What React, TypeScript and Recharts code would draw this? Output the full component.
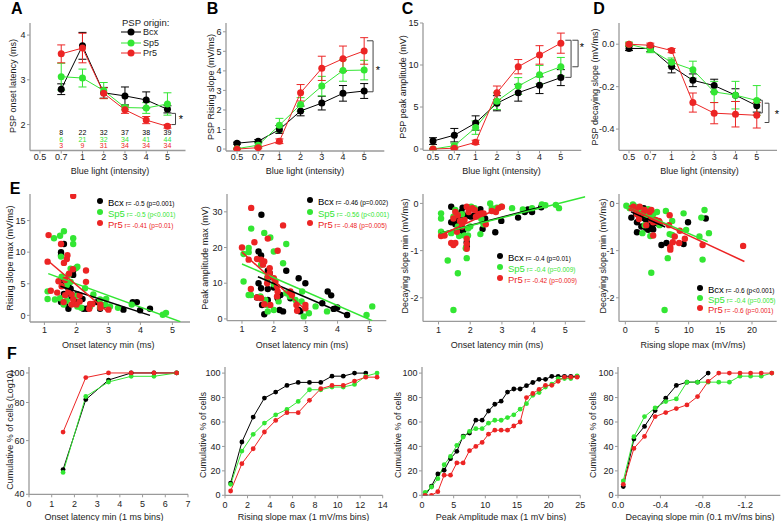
import React from 'react';
import { ComposedChart, Line, Scatter, XAxis, YAxis, ErrorBar, ReferenceLine } from 'recharts';

const BLACK = '#000000';
const GREEN = '#33e633';
const RED = '#ec2424';
const AXIS = '#9a9a9a';
const INK = '#222222';
const FONT = '"Liberation Sans", Arial, Helvetica, sans-serif';

// ---------- row 1: responses vs blue light intensity ----------
const intensities = ['0.5', '0.7', '1', '2', '3', '4', '5'];
const cellsBcx = [null, 8, 22, 32, 37, 38, 39];
const cellsSp5 = [null, 6, 21, 32, 34, 41, 44];
const cellsPr5 = [null, 3, 9, 31, 34, 34, 34];

const latencyBcx = [null, 2.79, 3.76, 2.71, 2.64, 2.55, 2.34];
const latencyBcxErr = [null, 0.12, 0.3, 0.12, 0.2, 0.18, 0.08];
const latencySp5 = [null, 3.07, 3.04, 2.76, 2.38, 2.37, 2.46];
const latencySp5Err = [null, 0.3, 0.2, 0.18, 0.05, 0.12, 0.25];
const latencyPr5 = [null, 3.58, 3.71, 2.7, 2.33, 2.1, 1.96];
const latencyPr5Err = [null, 0.2, 0.33, 0.12, 0.08, 0.08, 0.04];

const riseBcx = [0.3, 0.4, 1.0, 1.95, 2.35, 2.85, 2.97];
const riseBcxErr = [0.05, 0.08, 0.2, 0.25, 0.35, 0.4, 0.38];
const riseSp5 = [0.02, 0.2, 1.22, 2.28, 3.22, 4.02, 4.04];
const riseSp5Err = [0.03, 0.12, 0.35, 0.35, 0.5, 0.55, 0.5];
const risePr5 = [0.0, 0.07, 0.4, 2.88, 4.13, 4.62, 5.02];
const risePr5Err = [0.02, 0.05, 0.12, 0.42, 0.62, 0.65, 0.68];

const ampBcx = [0.95, 1.65, 3.1, 5.45, 6.7, 7.6, 8.5];
const ampBcxErr = [0.4, 0.8, 0.85, 0.9, 1.0, 1.0, 0.95];
const ampSp5 = [0.0, 0.4, 2.55, 5.7, 7.5, 8.85, 9.8];
const ampSp5Err = [0.05, 0.3, 0.8, 1.0, 1.0, 1.1, 1.1];
const ampPr5 = [0.0, 0.1, 0.8, 6.7, 9.8, 11.2, 12.6];
const ampPr5Err = [0.05, 0.1, 0.25, 0.8, 0.85, 1.1, 1.2];

const decayBcx = [-0.02, -0.02, -0.105, -0.17, -0.195, -0.24, -0.29];
const decayBcxErr = [0.01, 0.015, 0.03, 0.03, 0.03, 0.03, 0.03];
const decaySp5 = [0.0, -0.025, -0.085, -0.12, -0.225, -0.24, -0.265];
const decaySp5Err = [0.01, 0.015, 0.02, 0.04, 0.05, 0.065, 0.07];
const decayPr5 = [0.0, -0.005, -0.03, -0.275, -0.325, -0.33, -0.335];
const decayPr5Err = [0.005, 0.01, 0.01, 0.045, 0.05, 0.06, 0.06];

// significance brackets: x (intensity index units), tick end, top and bottom value
const latencyBrackets = [{ x: 6.38, tick: 6.19, top: 2.25, bottom: 2.0 }];
const riseBrackets = [{ x: 6.42, tick: 6.13, top: 5.54, bottom: 2.93 }];
const ampBrackets = [
  { x: 6.48, tick: 6.21, top: 12.95, bottom: 8.53 },
  { x: 6.81, tick: 6.54, top: 12.95, bottom: 9.79 },
];
const decayBrackets = [
  { x: 6.26, tick: 6.04, top: -0.264, bottom: -0.324 },
  { x: 6.57, tick: 6.37, top: -0.278, bottom: -0.369 },
];

// ---------- row 2: correlations (x, y per cell) ----------
const latRiseBcx = [[1.52,10.0],[1.61,11.3],[1.52,9.5],[1.9,6.4],[1.9,7.1],[1.52,5.6],[1.65,4.7],[1.75,4.3],[1.82,4.2],[1.61,3.4],[1.8,3.5],[1.85,3.0],[2.03,3.3],[1.52,2.1],[1.65,1.8],[1.75,1.05],[2.03,2.1],[2.19,2.6],[2.22,1.05],[2.32,1.05],[2.64,2.1],[2.74,1.05],[2.86,1.6],[3.47,0.9],[3.76,2.1],[3.89,2.1],[3.99,0.8],[4.3,1.05],[2.43,1.6],[1.75,4.8]];
const latRiseSp5 = [[1.61,13.3],[1.49,12.6],[1.3,12.2],[1.9,12.2],[1.9,11.3],[1.52,9.3],[2.03,7.7],[1.99,7.5],[1.82,7.4],[1.75,6.4],[1.54,6.1],[1.82,5.3],[1.7,4.8],[1.1,3.8],[1.1,2.6],[1.49,2.7],[1.7,2.3],[2.03,1.4],[2.15,1.2],[2.43,1.4],[2.74,1.3],[2.9,1.7],[2.93,2.6],[2.74,2.5],[3.05,1.4],[3.3,1.2],[3.73,1.7],[4.7,0.1],[4.8,0.4],[2.53,3.3],[2.27,4.3],[2.0,3.1],[1.6,1.7],[1.33,2.5]];
const latRisePr5 = [[1.9,18.9],[1.13,12.7],[1.52,11.3],[1.72,9.5],[1.7,8.9],[1.61,8.3],[1.1,8.5],[1.89,7.3],[2.3,7.1],[2.3,5.3],[1.2,3.9],[1.4,3.6],[1.65,3.2],[1.75,3.7],[1.85,3.3],[2.1,3.2],[1.9,2.5],[1.6,2.1],[2.0,1.7],[2.43,1.8],[2.5,1.8],[2.75,1.7],[2.4,1.05],[3.0,0.9],[2.75,1.2],[1.85,1.7],[2.1,2.2],[1.44,5.4],[1.65,5.6],[1.77,6.6],[1.54,4.6]];
const latRiseFitBcx = [[1.5, 4.6], [4.3, 0.0]];
const latRiseFitSp5 = [[1.12, 6.6], [5.25, -1.0]];
const latRiseFitPr5 = [[1.12, 8.6], [2.95, 0.7]];

const latAmpBcx = [[1.61,29.2],[1.52,18.9],[1.6,17.8],[1.81,13.5],[1.87,12.8],[2.39,13.5],[1.81,11.4],[1.52,10.0],[2.99,10.0],[2.78,11.4],[2.0,8.8],[1.6,8.6],[1.81,8.4],[2.21,6.7],[1.47,6.0],[1.63,3.9],[1.7,1.3],[1.81,5.3],[2.12,5.8],[2.18,2.5],[2.29,2.1],[2.52,5.8],[2.78,2.5],[2.83,2.1],[3.52,4.4],[3.69,7.7],[3.8,6.6],[3.88,2.8],[3.99,3.2],[4.3,1.1]];
const latAmpSp5 = [[1.29,25.3],[1.7,24.1],[1.89,22.8],[2.39,21.0],[1.21,19.9],[2.0,18.9],[1.21,18.7],[1.05,18.2],[1.6,15.2],[2.29,15.6],[1.79,11.4],[2.0,9.7],[1.05,10.5],[1.28,6.7],[1.73,5.3],[1.79,3.9],[2.0,2.5],[2.15,4.9],[2.39,7.2],[2.5,6.3],[2.68,5.3],[2.87,4.9],[2.89,7.7],[2.94,0.7],[3.1,1.6],[3.31,3.5],[3.67,2.1],[5.09,3.5],[4.91,1.1],[1.58,6.3],[1.81,2.1],[1.21,6.7]];
const latAmpPr5 = [[1.29,31.1],[2.29,26.2],[1.0,20.0],[1.39,21.5],[1.21,16.6],[1.47,16.8],[1.6,16.6],[1.81,22.5],[1.7,16.1],[1.66,15.2],[2.12,19.1],[1.87,14.2],[1.81,11.9],[2.05,10.5],[2.1,9.1],[2.12,7.7],[1.28,8.4],[1.6,5.8],[1.7,4.1],[1.89,3.9],[2.52,7.7],[2.57,6.7],[2.71,3.9],[2.73,2.3],[2.99,3.0],[2.99,3.9],[2.1,6.3],[1.47,6.0],[1.79,10.0],[1.87,12.8],[2.0,11.4]];
const latAmpFitBcx = [[1.5, 11.8], [4.3, 1.1]];
const latAmpFitSp5 = [[1.0, 15.4], [5.09, -0.5]];
const latAmpFitPr5 = [[1.0, 18.7], [3.0, 2.5]];

const latDecBcx = [[1.4,-0.07],[1.76,-0.09],[2.0,-0.1],[2.32,-0.12],[1.72,-0.18],[1.53,-0.32],[1.61,-0.32],[1.79,-0.25],[1.95,-0.26],[2.03,-0.28],[1.72,-0.54],[1.79,-0.56],[1.76,-0.6],[1.53,-0.44],[1.4,-0.4],[1.89,-0.82],[1.89,-0.91],[2.39,-0.54],[2.79,-0.61],[2.98,-0.37],[3.51,-0.3],[3.72,-0.18],[3.82,-0.13],[3.95,-0.18],[4.24,-0.08],[2.47,-0.32],[2.14,-0.25],[2.24,-0.18]];
const latDecSp5 = [[1.08,-0.21],[1.08,-0.32],[1.08,-0.6],[1.4,-0.63],[1.29,-1.21],[1.61,-1.48],[1.47,-2.26],[1.61,-0.49],[1.65,-0.69],[1.82,-0.68],[1.93,-0.68],[1.89,-1.16],[1.86,-0.95],[2.0,-0.49],[1.53,-0.14],[2.03,-0.07],[2.14,-0.1],[2.35,-0.33],[2.32,-0.65],[2.42,-0.44],[2.63,0.0],[2.68,-0.1],[2.84,-0.09],[2.98,-0.07],[3.32,-0.1],[3.66,-0.13],[3.95,-0.1],[4.26,-0.02],[4.37,-0.04],[4.7,-0.03],[4.8,-0.1],[1.74,-0.23],[1.47,-0.28],[1.93,-0.53]];
const latDecPr5 = [[1.08,-0.69],[1.19,-0.68],[1.4,-0.84],[1.47,-0.88],[1.53,-0.84],[1.89,-0.86],[1.89,-0.96],[1.89,-0.75],[1.47,-0.32],[1.53,-0.18],[1.61,-0.25],[1.68,-0.37],[1.74,-0.42],[1.82,-0.35],[1.89,-0.07],[1.95,-0.18],[2.07,-0.1],[2.14,-0.14],[2.18,-0.28],[2.26,-0.23],[2.35,-0.21],[2.42,-0.21],[2.49,-0.44],[2.68,-0.16],[2.81,-0.18],[2.89,-0.1],[3.0,-0.07],[1.74,-0.49],[1.58,-0.6]];
const latDecFitBcx = [[1.05, -0.63], [4.26, -0.07]];
const latDecFitSp5 = [[1.05, -0.63], [5.63, 0.14]];
const latDecFitPr5 = [[1.05, -0.68], [3.0, -0.07]];

const riseDecBcx = [[0.95,-0.3],[1.84,-0.4],[1.84,-0.61],[2.53,-0.49],[2.53,-0.25],[3.05,-0.32],[3.3,-0.53],[3.6,-0.56],[3.84,-0.47],[4.2,-0.47],[4.4,-0.55],[3.6,-0.25],[2.7,-0.2],[2.16,-0.14],[5.4,-0.44],[5.7,-0.88],[6.5,-0.84],[9.2,-0.86],[9.9,-0.4],[12.7,-0.32],[1.2,-0.1],[2.9,-0.1],[1.7,-0.21],[3.3,-0.35],[4.9,-0.42]];
const riseDecSp5 = [[0.16,-0.05],[0.68,-0.1],[1.2,-0.02],[1.63,-0.07],[2.16,-0.1],[2.53,-0.12],[3.6,-0.12],[3.84,-0.14],[4.4,-0.23],[5.0,-0.18],[6.4,-0.16],[7.4,-0.37],[7.0,-0.65],[7.4,-0.67],[6.7,-1.16],[4.1,-1.47],[6.2,-2.26],[9.2,-0.21],[12.0,-0.3],[12.5,-0.14],[13.2,-0.63],[11.7,-0.7],[12.2,-1.19],[3.2,-0.25],[4.1,-0.25],[3.95,-0.69],[2.7,-0.63],[5.4,-0.46],[9.6,-0.56],[3.05,-0.46]];
const riseDecPr5 = [[0.95,-0.1],[1.3,-0.07],[1.63,-0.14],[1.84,-0.23],[2.26,-0.07],[2.8,-0.21],[3.05,-0.14],[3.84,-0.18],[4.1,-0.14],[4.8,-0.35],[5.0,-0.39],[5.3,-0.37],[4.4,-0.4],[4.1,-0.35],[4.4,-0.68],[5.4,-0.39],[7.1,-0.93],[7.1,-0.98],[7.5,-0.82],[7.8,-0.7],[8.5,-0.84],[8.6,-0.58],[6.9,-0.46],[9.4,-0.75],[12.2,-0.88],[18.6,-0.9],[7.0,-0.25],[3.3,-0.46],[2.16,-0.33]];
const riseDecFitBcx = [[0.9, -0.18], [6.3, -0.5]];
const riseDecFitSp5 = [[0.16, -0.07], [13.0, -0.81]];
const riseDecFitPr5 = [[0.68, -0.1], [18.8, -1.23]];

// ---------- row 3: cumulative distributions ----------
const latencyBins = [1.5, 2.5, 3.5, 4.5, 5.5, 6.5];
const cumLatBcx = [48.2, 81.8, 94.8, 100, 100, 100];
const cumLatSp5 = [47.2, 83.7, 93.4, 97.5, 97.5, 100];
const cumLatPr5 = [64, 96.6, 100, 100, 100, 100];

const riseBins = [0.5, 1.5, 2.5, 3.5, 4.5, 5.5, 6.5, 7.5, 8.5, 9.5, 10.5, 11.5, 12.5, 13.5];
const cumRiseBcx = [10, 43.6, 64, 79.6, 84.5, 89.9, 92.4, 92.4, 92.4, 97.5, 97.5, 100, 100, null];
const cumRiseSp5 = [9, 36.2, 49.9, 59.1, 65.9, 70.3, 76.8, 86.4, 86.4, 88.6, 88.6, 90.7, 97.5, 100];
const cumRisePr5 = [3.5, 25.9, 38.1, 51.8, 61.3, 67.6, 67.6, 77.7, 87.2, 89.9, 89.9, 93.5, 96.7, 96.7];

const ampBins = [0.5, 1.5, 2.5, 3.5, 4.5, 5.5, 6.5, 7.5, 8.5, 9.5, 10.5, 11.5, 12.5, 13.5, 14.5, 15.5, 16.5, 17.5, 18.5, 19.5, 20.5, 21.5, 22.5, 23.5, 24.5];
const cumAmpBcx = [0, 7.5, 17.5, 20.5, 30, 36, 48.5, 51, 61.5, 61.5, 69, 74.5, 77, 84.5, 87, 87, 89.7, 92.3, 94.9, 94.9, 97.4, 97.4, 97.4, 97.4, 97.4];
const cumAmpSp5 = [2.3, 6.8, 13.6, 25, 31.8, 40.9, 47.7, 52.3, 54.5, 54.5, 59, 61.4, 61.4, 63.6, 65.9, 70.5, 75, 81.8, 84.1, 88.6, 90.9, 95.5, 95.5, 95.5, 97.7];
const cumAmpPr5 = [0, 0, 3, 16.5, 16.5, 26.5, 26.5, 36.5, 40, 43.3, 50, 53.3, 53.3, 53.3, 56.7, 60, 80, 83.3, 86.7, 90, 90, 93.3, 96.7, 96.7, 96.7];

const decayBins = [0.05, 0.15, 0.25, 0.35, 0.45, 0.55, 0.65, 0.75, 0.85, 0.95, 1.05, 1.15, 1.25, 1.35, 1.45];
const cumDecBcx = [7.1, 46, 56.4, 69.3, 79.5, 89.9, 92.6, 92.6, 100, null, null, null, null, null, null];
const cumDecSp5 = [11.8, 47.9, 64.4, 71.5, 76.7, 78.9, 92.6, 92.6, 92.6, 92.6, 92.6, 97.5, 97.5, 97.5, 100];
const cumDecPr5 = [9, 38.4, 48.2, 64.4, 67.7, 71, 74, 80.8, 93.2, 100, 100, 100, 100, 100, 100];

// ---------- layout helpers ----------
const P = { l: 44, t: 8, r: 8, b: 26 };
type Rect = [number, number, number, number];

function frame(rect: Rect) {
  return {
    style: { position: 'absolute' as const, left: rect[0] - P.l, top: rect[1] - P.t },
    width: rect[2] - rect[0] + P.l + P.r,
    height: rect[3] - rect[1] + P.t + P.b,
  };
}

const TICK = { fontSize: 9, fill: INK, fontFamily: FONT };
const axisLine = { stroke: AXIS, strokeWidth: 1.3 };
const tickLine = { stroke: AXIS };

function T({ x, y, children, size = 9, rotate = false, color = INK, bold = false, anchor = 'middle' }: any) {
  const tx = anchor === 'middle' ? '-50%' : '0';
  return (
    <div
      style={{
        position: 'absolute',
        left: x,
        top: y,
        transform: `translate(${tx}, -50%)${rotate ? ' rotate(-90deg)' : ''}`,
        whiteSpace: 'nowrap',
        fontSize: size,
        color,
        fontWeight: bold ? 700 : 400,
        lineHeight: 1,
      }}
    >
      {children}
    </div>
  );
}

type Series = { name: string; values: (number | null)[]; errors: (number | null)[]; color: string };

function countTick(props: any) {
  const { x, y, payload } = props;
  const i = payload.value as number;
  const rows = [cellsBcx, cellsSp5, cellsPr5];
  const colors = [BLACK, GREEN, RED];
  return (
    <g>
      <text x={x} y={y} dy="0.71em" textAnchor="middle" fontSize={9} fill={INK} fontFamily={FONT}>
        {intensities[i]}
      </text>
      {rows.map((row, k) =>
        row[i] == null ? null : (
          <text key={k} x={x} y={y - 20.5 + k * 6.5} dy="0.35em" textAnchor="middle" fontSize={7} fill={colors[k]} fontFamily={FONT}>
            {row[i]}
          </text>
        ),
      )}
    </g>
  );
}

function IntensityPanel({ rect, xDomain, yDomain, yTicks, yFmt, series, brackets, withCounts }: any) {
  const f = frame(rect);
  const rows = intensities.map((_, i) => {
    const r: any = { i };
    (series as Series[]).forEach((s) => {
      r[s.name] = s.values[i];
      r[s.name + 'Err'] = s.values[i] == null ? null : s.errors[i];
    });
    return r;
  });
  return (
    <div style={f.style}>
      <ComposedChart width={f.width} height={f.height} data={rows} margin={{ top: P.t, right: P.r, bottom: 0, left: 0 }}>
        <XAxis
          type="number"
          dataKey="i"
          domain={xDomain}
          ticks={[0, 1, 2, 3, 4, 5, 6]}
          interval={0}
          allowDataOverflow
          height={P.b}
          tickSize={3}
          tickMargin={0}
          axisLine={axisLine}
          tickLine={tickLine}
          tick={withCounts ? countTick : TICK}
          tickFormatter={(v: number) => intensities[v]}
        />
        <YAxis
          type="number"
          domain={yDomain}
          ticks={yTicks}
          interval={0}
          allowDataOverflow
          width={P.l}
          tickSize={3}
          tickMargin={1.5}
          axisLine={axisLine}
          tickLine={tickLine}
          tick={TICK}
          tickFormatter={yFmt}
        />
        {brackets.map((b: any, k: number) => [
          <ReferenceLine key={`v${k}`} segment={[{ x: b.x, y: b.top }, { x: b.x, y: b.bottom }]} stroke="#444" ifOverflow="visible" />,
          <ReferenceLine key={`t${k}`} segment={[{ x: b.tick, y: b.top }, { x: b.x, y: b.top }]} stroke="#444" ifOverflow="visible" />,
          <ReferenceLine key={`b${k}`} segment={[{ x: b.tick, y: b.bottom }, { x: b.x, y: b.bottom }]} stroke="#444" ifOverflow="visible" />,
        ])}
        {(series as Series[]).map((s) => (
          <Line
            key={s.name}
            dataKey={s.name}
            stroke={s.color}
            strokeWidth={1}
            dot={{ r: 3.5, fill: s.color, stroke: s.color, strokeWidth: 0 }}
            activeDot={false}
            isAnimationActive={false}
          >
            <ErrorBar dataKey={s.name + 'Err'} width={4} stroke={s.color} strokeWidth={1} direction="y" />
          </Line>
        ))}
      </ComposedChart>
    </div>
  );
}

const toPts = (a: number[][]) => a.map(([x, y]) => ({ x, y }));
const noShape = () => <g />;

function ScatterPanel({ rect, xDomain, xTicks, yDomain, yTicks, groups, fits }: any) {
  const f = frame(rect);
  return (
    <div style={f.style}>
      <ComposedChart width={f.width} height={f.height} margin={{ top: P.t, right: P.r, bottom: 0, left: 0 }}>
        <XAxis type="number" dataKey="x" domain={xDomain} ticks={xTicks} interval={0} allowDataOverflow height={P.b}
          tickSize={3} tickMargin={2} axisLine={axisLine} tickLine={tickLine} tick={TICK} />
        <YAxis type="number" dataKey="y" domain={yDomain} ticks={yTicks} interval={0} allowDataOverflow width={P.l}
          tickSize={3} tickMargin={1.5} axisLine={axisLine} tickLine={tickLine} tick={TICK} />
        {groups.map((g: any, k: number) => (
          <Scatter
            key={`g${k}`}
            data={toPts(g.pts)}
            isAnimationActive={false}
            shape={(p: any) => <circle cx={p.cx} cy={p.cy} r={3.2} fill={g.color} />}
          />
        ))}
        {fits.map((g: any, k: number) => (
          <Scatter
            key={`f${k}`}
            data={toPts(g.pts)}
            line={{ stroke: g.color, strokeWidth: 1.5 }}
            shape={noShape}
            isAnimationActive={false}
          />
        ))}
      </ComposedChart>
    </div>
  );
}

function CumulativePanel({ rect, bins, xDomain, xTicks, xFmt, yDomain, yTicks, log, series }: any) {
  const f = frame(rect);
  const rows = bins.map((x: number, k: number) => {
    const r: any = { x };
    series.forEach((s: any) => (r[s.name] = s.values[k]));
    return r;
  });
  return (
    <div style={f.style}>
      <ComposedChart width={f.width} height={f.height} data={rows} margin={{ top: P.t, right: P.r, bottom: 0, left: 0 }}>
        <XAxis type="number" dataKey="x" domain={xDomain} ticks={xTicks} interval={0} allowDataOverflow height={P.b}
          tickSize={3} tickMargin={3} axisLine={axisLine} tickLine={tickLine} tick={TICK} tickFormatter={xFmt} />
        <YAxis type="number" scale={log ? 'log' : 'auto'} domain={yDomain} ticks={yTicks} interval={0} allowDataOverflow width={P.l}
          tickSize={3} tickMargin={1.5} axisLine={axisLine} tickLine={tickLine} tick={TICK} />
        {series.map((s: any) => (
          <Line
            key={s.name}
            dataKey={s.name}
            stroke={s.color}
            strokeWidth={1}
            dot={{ r: 2.4, fill: s.color, stroke: s.color, strokeWidth: 0 }}
            activeDot={false}
            isAnimationActive={false}
          />
        ))}
      </ComposedChart>
    </div>
  );
}

function LegendDot({ x, y, color, name, stat }: any) {
  return (
    <>
      <div style={{ position: 'absolute', left: x - 3.2, top: y - 3.2, width: 6.4, height: 6.4, borderRadius: '50%', background: color }} />
      <div style={{ position: 'absolute', left: x + 8, top: y, transform: 'translate(0,-50%)', whiteSpace: 'nowrap', color, lineHeight: 1 }}>
        <span style={{ fontSize: 9.5 }}>{name}</span>
        <span style={{ fontSize: 6.5 }}> {stat}</span>
      </div>
    </>
  );
}

function LegendLine({ x, y, color, name }: any) {
  return (
    <>
      <svg style={{ position: 'absolute', left: x, top: y - 4 }} width={22} height={8}>
        <line x1={0} y1={4} x2={20} y2={4} stroke={color} strokeWidth={1} />
        <circle cx={10} cy={4} r={3.5} fill={color} />
      </svg>
      <T x={x + 22} y={y} anchor="start" size={9}>{name}</T>
    </>
  );
}

const rectA: Rect = [29.5, 23, 185, 150.5];
const rectB: Rect = [225.7, 23, 384, 151];
const rectC: Rect = [422.7, 22.7, 581, 150];
const rectD: Rect = [619.3, 22.7, 777.3, 150];
const rectE1: Rect = [30, 194.3, 190, 322.3];
const rectE2: Rect = [226.7, 194.3, 386, 321];
const rectE3: Rect = [422.7, 194.3, 585, 321.7];
const rectE4: Rect = [619.3, 194.3, 777, 321.7];
const rectF1: Rect = [29.3, 366.7, 188.3, 494];
const rectF2: Rect = [225, 366.7, 382.7, 495];
const rectF3: Rect = [421.7, 366.7, 580, 495];
const rectF4: Rect = [617.7, 366.7, 780, 495];

const trio = (b: any, s: any, p: any) => [
  { name: 'bcx', color: BLACK, ...b },
  { name: 'sp5', color: GREEN, ...s },
  { name: 'pr5', color: RED, ...p },
];

export default function App() {
  const fmt1 = (v: number) => v.toFixed(1);
  return (
    <div style={{ position: 'absolute', left: 0, top: 0, width: 781, height: 521, background: '#fff', fontFamily: FONT, overflow: 'hidden' }}>
      {/* row 1 */}
      <IntensityPanel
        rect={rectA}
        xDomain={[-0.47, 6.85]}
        yDomain={[1.42, 4.27]}
        yTicks={[2, 3, 4]}
        series={trio(
          { values: latencyBcx, errors: latencyBcxErr },
          { values: latencySp5, errors: latencySp5Err },
          { values: latencyPr5, errors: latencyPr5Err },
        )}
        brackets={latencyBrackets}
        withCounts
      />
      <IntensityPanel
        rect={rectB}
        xDomain={[-0.52, 6.95]}
        yDomain={[-0.1, 6.45]}
        yTicks={[0, 1, 2, 3, 4, 5, 6]}
        series={trio(
          { values: riseBcx, errors: riseBcxErr },
          { values: riseSp5, errors: riseSp5Err },
          { values: risePr5, errors: risePr5Err },
        )}
        brackets={riseBrackets}
      />
      <IntensityPanel
        rect={rectC}
        xDomain={[-0.47, 6.96]}
        yDomain={[-0.15, 15]}
        yTicks={[0, 5, 10, 15]}
        series={trio(
          { values: ampBcx, errors: ampBcxErr },
          { values: ampSp5, errors: ampSp5Err },
          { values: ampPr5, errors: ampPr5Err },
        )}
        brackets={ampBrackets}
      />
      <IntensityPanel
        rect={rectD}
        xDomain={[-0.47, 6.95]}
        yDomain={[-0.5, 0.1]}
        yTicks={[-0.4, -0.2, 0]}
        yFmt={fmt1}
        series={trio(
          { values: decayBcx, errors: decayBcxErr },
          { values: decaySp5, errors: decaySp5Err },
          { values: decayPr5, errors: decayPr5Err },
        )}
        brackets={decayBrackets}
      />

      {/* row 2 */}
      <ScatterPanel
        rect={rectE1}
        xDomain={[0.55, 5.55]}
        xTicks={[1, 2, 3, 4, 5]}
        yDomain={[-1.05, 19.2]}
        yTicks={[0, 5, 10, 15]}
        groups={[{ pts: latRiseBcx, color: BLACK }, { pts: latRiseSp5, color: GREEN }, { pts: latRisePr5, color: RED }]}
        fits={[{ pts: latRiseFitBcx, color: BLACK }, { pts: latRiseFitSp5, color: GREEN }, { pts: latRiseFitPr5, color: RED }]}
      />
      <ScatterPanel
        rect={rectE2}
        xDomain={[0.53, 5.53]}
        xTicks={[1, 2, 3, 4, 5]}
        yDomain={[-0.5, 35]}
        yTicks={[0, 10, 20, 30]}
        groups={[{ pts: latAmpBcx, color: BLACK }, { pts: latAmpSp5, color: GREEN }, { pts: latAmpPr5, color: RED }]}
        fits={[{ pts: latAmpFitBcx, color: BLACK }, { pts: latAmpFitSp5, color: GREEN }, { pts: latAmpFitPr5, color: RED }]}
      />
      <ScatterPanel
        rect={rectE3}
        xDomain={[0.51, 5.63]}
        xTicks={[1, 2, 3, 4, 5]}
        yDomain={[-2.5, 0.2]}
        yTicks={[-2, -1, 0]}
        groups={[{ pts: latDecBcx, color: BLACK }, { pts: latDecSp5, color: GREEN }, { pts: latDecPr5, color: RED }]}
        fits={[{ pts: latDecFitBcx, color: BLACK }, { pts: latDecFitSp5, color: GREEN }, { pts: latDecFitPr5, color: RED }]}
      />
      <ScatterPanel
        rect={rectE4}
        xDomain={[-1, 23.9]}
        xTicks={[0, 5, 10, 15, 20]}
        yDomain={[-2.5, 0.2]}
        yTicks={[-2, -1, 0]}
        groups={[{ pts: riseDecBcx, color: BLACK }, { pts: riseDecSp5, color: GREEN }, { pts: riseDecPr5, color: RED }]}
        fits={[{ pts: riseDecFitBcx, color: BLACK }, { pts: riseDecFitSp5, color: GREEN }, { pts: riseDecFitPr5, color: RED }]}
      />

      {/* row 3 */}
      <CumulativePanel
        rect={rectF1}
        bins={latencyBins}
        xDomain={[0, 7]}
        xTicks={[0, 1, 2, 3, 4, 5, 6, 7]}
        yDomain={[40, 104.6]}
        yTicks={[40, 60, 80, 100]}
        log
        series={trio({ values: cumLatBcx }, { values: cumLatSp5 }, { values: cumLatPr5 })}
      />
      <CumulativePanel
        rect={rectF2}
        bins={riseBins}
        xDomain={[0, 14]}
        xTicks={[0, 2, 4, 6, 8, 10, 12, 14]}
        yDomain={[0, 105]}
        yTicks={[0, 20, 40, 60, 80, 100]}
        series={trio({ values: cumRiseBcx }, { values: cumRiseSp5 }, { values: cumRisePr5 })}
      />
      <CumulativePanel
        rect={rectF3}
        bins={ampBins}
        xDomain={[0, 25]}
        xTicks={[0, 5, 10, 15, 20, 25]}
        yDomain={[0, 105]}
        yTicks={[0, 20, 40, 60, 80, 100]}
        series={trio({ values: cumAmpBcx }, { values: cumAmpSp5 }, { values: cumAmpPr5 })}
      />
      <CumulativePanel
        rect={rectF4}
        bins={decayBins}
        xDomain={[0, 1.53]}
        xTicks={[0, 0.4, 0.8, 1.2]}
        xFmt={(v: number) => (v === 0 ? '0.0' : (-v).toFixed(1))}
        yDomain={[0, 105]}
        yTicks={[0, 20, 40, 60, 80, 100]}
        series={trio({ values: cumDecBcx }, { values: cumDecSp5 }, { values: cumDecPr5 })}
      />

      {/* panel letters */}
      <T x={16.7} y={8.5} size={16} bold color="#000">A</T>
      <T x={212.5} y={8.5} size={16} bold color="#000">B</T>
      <T x={407.5} y={8.5} size={16} bold color="#000">C</T>
      <T x={599} y={8.5} size={16} bold color="#000">D</T>
      <T x={15} y={189} size={16} bold color="#000">E</T>
      <T x={12} y={354} size={16} bold color="#000">F</T>

      {/* y titles */}
      <T x={13} y={86} rotate>PSP onset latency (ms)</T>
      <T x={210.5} y={87} rotate>PSP Rising slope (mV/ms)</T>
      <T x={403} y={87} rotate>PSP peak amplitude (mV)</T>
      <T x={595} y={87} rotate>PSP decaying slope (mV/ms)</T>
      <T x={10} y={258} rotate>Rising slope max (mV/ms)</T>
      <T x={205} y={258} rotate>Peak amplitude max (mV)</T>
      <T x={405} y={256} rotate>Decaying slope min (mV/ms)</T>
      <T x={603} y={256} rotate>Decaying slope min (mV/ms)</T>
      <T x={10} y={430} rotate>Cumulative % of cells (Log10)</T>
      <T x={203} y={435} rotate>Cumulative % of cells</T>
      <T x={398} y={435} rotate>Cumulative % of cells</T>
      <T x={593} y={435} rotate>Cumulative % of cells</T>

      {/* x titles */}
      <T x={110} y={171}>Blue light (intensity)</T>
      <T x={305} y={171}>Blue light (intensity)</T>
      <T x={501.5} y={171}>Blue light (intensity)</T>
      <T x={699.5} y={171}>Blue light (intensity)</T>
      <T x={108.3} y={345}>Onset latency min (ms)</T>
      <T x={302} y={345}>Onset latency min (ms)</T>
      <T x={497} y={345}>Onset latency min (ms)</T>
      <T x={693} y={345}>Rising slope max (mV/ms)</T>
      <T x={104} y={517}>Onset latency min (1 ms bins)</T>
      <T x={303.5} y={517}>Rising slope max (1 mV/ms bins)</T>
      <T x={501} y={517}>Peak Amplitude max (1 mV bins)</T>
      <T x={700} y={517}>Decaying slope min (0.1 mV/ms bins)</T>

      {/* significance stars */}
      <T x={181} y={119} size={11} color="#000">*</T>
      <T x={378} y={70} size={11} color="#000">*</T>
      <T x={582} y={47} size={11} color="#000">*</T>
      <T x={777} y={114} size={11} color="#000">*</T>

      {/* legend A */}
      <T x={122} y={22.7} anchor="start" size={9.5}>PSP origin:</T>
      <LegendLine x={121} y={32.3} color={BLACK} name="Bcx" />
      <LegendLine x={121} y={43.3} color={GREEN} name="Sp5" />
      <LegendLine x={121} y={53.3} color={RED} name="Pr5" />

      {/* legends row 2 */}
      <LegendDot x={100} y={200.7} color={BLACK} name="Bcx" stat="r= -0.5 (p=0.001)" />
      <LegendDot x={100} y={211.7} color={GREEN} name="Sp5" stat="r= -0.5 (p<0.001)" />
      <LegendDot x={100} y={222.7} color={RED} name="Pr5" stat="r= -0.41 (p=0.01)" />
      <LegendDot x={310} y={200.3} color={BLACK} name="Bcx" stat="r= -0.46 (p=0.002)" />
      <LegendDot x={310} y={211.7} color={GREEN} name="Sp5" stat="r= -0.56 (p<0.001)" />
      <LegendDot x={310} y={223.3} color={RED} name="Pr5" stat="r= -0.48 (p=0.005)" />
      <LegendDot x={500} y={255.7} color={BLACK} name="Bcx" stat="r= -0.4 (p=0.01)" />
      <LegendDot x={500} y={266.7} color={GREEN} name="Sp5" stat="r= -0.4 (p=0.009)" />
      <LegendDot x={500} y={277.7} color={RED} name="Pr5" stat="r= -0.42 (p=0.009)" />
      <LegendDot x={700} y={287.7} color={BLACK} name="Bcx" stat="r= -0.6 (p<0.001)" />
      <LegendDot x={700} y={298.3} color={GREEN} name="Sp5" stat="r= -0.4 (p=0.005)" />
      <LegendDot x={700} y={308.3} color={RED} name="Pr5" stat="r= -0.6 (p=0.001)" />
    </div>
  );
}
